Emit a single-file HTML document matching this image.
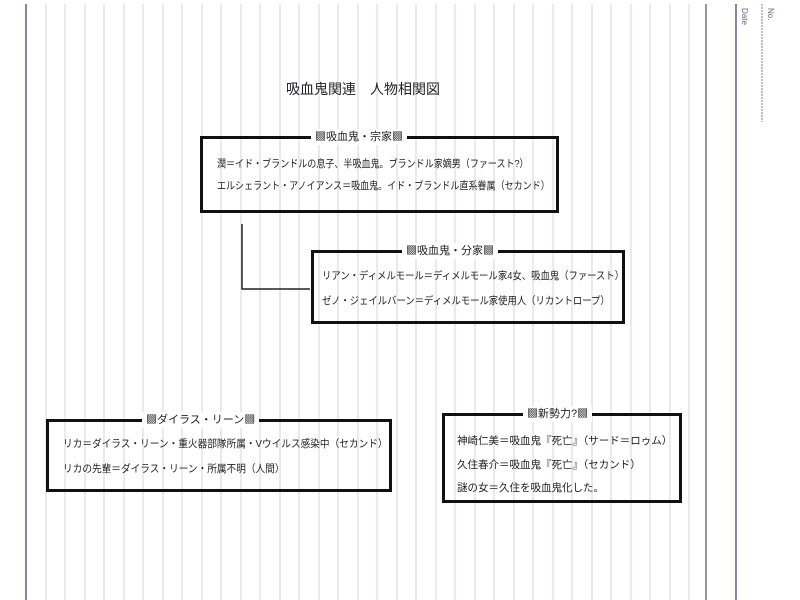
<!DOCTYPE html>
<html><head><meta charset="utf-8"><style>
body{margin:0;width:800px;height:600px;background:#fff;position:relative;overflow:hidden;font-family:"Liberation Sans","Noto Sans CJK JP",sans-serif;color:#222}
svg{position:absolute;left:0;top:0}
.box{position:absolute;border:3px solid #111;box-sizing:border-box}
.t{position:absolute;top:-10px;font-size:11px;line-height:16px;background:#fff;padding:0 4px;white-space:nowrap}
.l{position:absolute;left:14px;font-size:10.5px;white-space:nowrap;line-height:14px;transform-origin:left center}
</style></head><body>
<svg width="800" height="600">
<g stroke="#e2e2ea" stroke-width="1.5">
<line x1="46" y1="4" x2="46" y2="600"/><line x1="65" y1="4" x2="65" y2="600"/><line x1="85" y1="4" x2="85" y2="600"/><line x1="104" y1="4" x2="104" y2="600"/><line x1="124" y1="4" x2="124" y2="600"/><line x1="143" y1="4" x2="143" y2="600"/><line x1="163" y1="4" x2="163" y2="600"/><line x1="182" y1="4" x2="182" y2="600"/><line x1="202" y1="4" x2="202" y2="600"/><line x1="221" y1="4" x2="221" y2="600"/><line x1="241" y1="4" x2="241" y2="600"/><line x1="260" y1="4" x2="260" y2="600"/><line x1="280" y1="4" x2="280" y2="600"/><line x1="299" y1="4" x2="299" y2="600"/><line x1="319" y1="4" x2="319" y2="600"/><line x1="338" y1="4" x2="338" y2="600"/><line x1="358" y1="4" x2="358" y2="600"/><line x1="377" y1="4" x2="377" y2="600"/><line x1="397" y1="4" x2="397" y2="600"/><line x1="416" y1="4" x2="416" y2="600"/><line x1="436" y1="4" x2="436" y2="600"/><line x1="455" y1="4" x2="455" y2="600"/><line x1="475" y1="4" x2="475" y2="600"/><line x1="494" y1="4" x2="494" y2="600"/><line x1="514" y1="4" x2="514" y2="600"/><line x1="533" y1="4" x2="533" y2="600"/><line x1="553" y1="4" x2="553" y2="600"/><line x1="572" y1="4" x2="572" y2="600"/><line x1="592" y1="4" x2="592" y2="600"/><line x1="611" y1="4" x2="611" y2="600"/><line x1="631" y1="4" x2="631" y2="600"/><line x1="650" y1="4" x2="650" y2="600"/><line x1="670" y1="4" x2="670" y2="600"/><line x1="689" y1="4" x2="689" y2="600"/>
</g>
<line x1="26" y1="4" x2="26" y2="600" stroke="#5a5e9a" stroke-width="1.5"/>
<line x1="706" y1="4" x2="706" y2="600" stroke="#777" stroke-width="1.5"/>
<line x1="736" y1="4" x2="736" y2="600" stroke="#5a5e9a" stroke-width="1.5"/>
<line x1="762" y1="4" x2="762" y2="122" stroke="#7a7eb0" stroke-width="1" stroke-dasharray="2,1"/>
<text x="742" y="8" font-size="8" fill="#667" transform="rotate(90 742 8)" font-family="Liberation Sans">Date</text>
<text x="768" y="8" font-size="8" fill="#667" transform="rotate(90 768 8)" font-family="Liberation Sans">No.</text>
<polyline points="242,224 242,289 310,289" fill="none" stroke="#222" stroke-width="1.5"/>
<text x="286" y="94" font-size="14" fill="#222" font-family="Liberation Sans, Noto Sans CJK JP, sans-serif">吸血鬼関連　人物相関図</text>
</svg>
<div class="box" style="left:200px;top:136px;width:359px;height:77px">
<div class="t" style="left:108px">▩吸血鬼・宗家▩</div>
<div class="l" style="top:18px;transform:scaleX(0.86)">潤＝イド・ブランドルの息子、半吸血鬼。ブランドル家嫡男（ファースト?）</div>
<div class="l" style="top:40px;transform:scaleX(0.86)">エルシェラント・アノイアンス＝吸血鬼。イド・ブランドル直系眷属（セカンド）</div>
</div>
<div class="box" style="left:311px;top:250px;width:314px;height:74px">
<div class="t" style="left:88px">▩吸血鬼・分家▩</div>
<div class="l" style="top:16px;left:8px;transform:scaleX(0.89)">リアン・ディメルモール＝ディメルモール家4女、吸血鬼（ファースト）</div>
<div class="l" style="top:41px;left:8px;transform:scaleX(0.89)">ゼノ・ジェイルバーン＝ディメルモール家使用人（リカントロープ）</div>
</div>
<div class="box" style="left:46px;top:419px;width:346px;height:73px">
<div class="t" style="left:93px">▩ダイラス・リーン▩</div>
<div class="l" style="top:15px;transform:scaleX(0.92)">リカ＝ダイラス・リーン・重火器部隊所属・Vウイルス感染中（セカンド）</div>
<div class="l" style="top:40px;transform:scaleX(0.92)">リカの先輩＝ダイラス・リーン・所属不明（人間）</div>
</div>
<div class="box" style="left:442px;top:413px;width:240px;height:90px">
<div class="t" style="left:78px">▩新勢力?▩</div>
<div class="l" style="top:18px;left:12px">神崎仁美＝吸血鬼『死亡』（サード＝ロゥム）</div>
<div class="l" style="top:42px;left:12px">久住春介＝吸血鬼『死亡』（セカンド）</div>
<div class="l" style="top:65px;left:12px">謎の女＝久住を吸血鬼化した。</div>
</div>
</body></html>
